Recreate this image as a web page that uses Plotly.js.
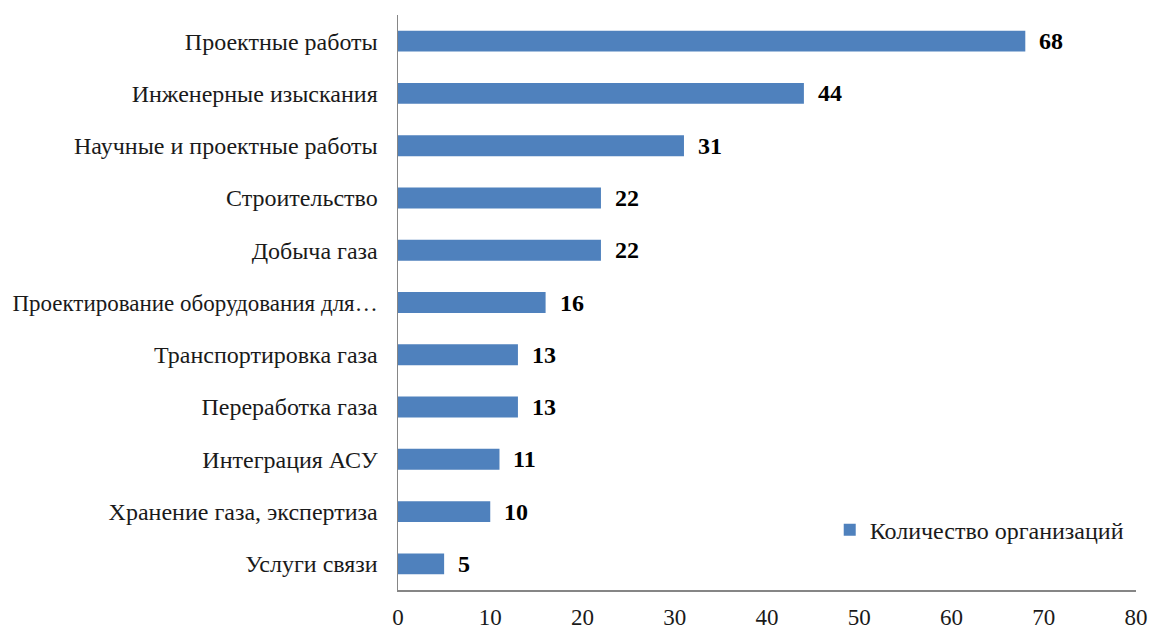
<!DOCTYPE html>
<html>
<head>
<meta charset="utf-8">
<script src="https://cdn.plot.ly/plotly-3.0.1.min.js"></script>
<style>html,body{margin:0;padding:0;background:#fff;}#chart{width:1150px;height:631px;}</style>
</head>
<body>
<div id="chart"></div>
<script>
const categories = [
  "Проектные работы",
  "Инженерные изыскания",
  "Научные и проектные работы",
  "Строительство",
  "Добыча газа",
  "Проектирование оборудования для…",
  "Транспортировка газа",
  "Переработка газа",
  "Интеграция АСУ",
  "Хранение газа, экспертиза",
  "Услуги связи"
];
const values = [68, 44, 31, 22, 22, 16, 13, 13, 11, 10, 5];
const seriesName = "Количество организаций";
const xTicks = [0, 10, 20, 30, 40, 50, 60, 70, 80];

const font = "'Liberation Serif', 'Times New Roman', serif";

// long labels get a slightly smaller size so they fit in the margin
const yTickText = categories.map(c => c.length > 30 ? '<span style="font-size:23px">' + c + '</span>' : c);

const trace = {
  type: "bar",
  orientation: "h",
  x: values,
  y: categories,
  name: seriesName,
  marker: {color: "#4F81BD", line: {width: 0}},
  showlegend: true,
  hoverinfo: "x+y"
};

const annotations = values.map((v, i) => ({
  x: v, y: categories[i], xref: "x", yref: "y",
  text: "<b>" + v + "</b>", showarrow: false,
  xanchor: "left", yanchor: "middle", xshift: 12,
  font: {family: font, size: 24, color: "#000"}
}));

const layout = {
  width: 1150, height: 631,
  margin: {l: 398, r: 14, t: 15, b: 41, pad: 0},
  paper_bgcolor: "#fff", plot_bgcolor: "#fff",
  font: {family: font, size: 24, color: "#1a1a1a"},
  bargap: 0.6,
  xaxis: {
    range: [0, 80], tickvals: xTicks, ticktext: xTicks.map(String),
    showgrid: false, zeroline: false,
    showline: true, linecolor: "#868686", linewidth: 1.5,
    ticks: "", ticklabelstandoff: 6,
    tickfont: {family: font, size: 23, color: "#1a1a1a"}
  },
  yaxis: {
    autorange: "reversed", type: "category",
    tickvals: categories, ticktext: yTickText,
    showgrid: false, zeroline: false,
    showline: true, linecolor: "#868686", linewidth: 1.5,
    ticks: "", ticklabelstandoff: 14,
    tickfont: {family: font, size: 24, color: "#1a1a1a"}
  },
  legend: {
    x: 0.585, y: 0.104, xanchor: "left", yanchor: "middle",
    bgcolor: "rgba(0,0,0,0)", itemwidth: 30,
    font: {family: font, size: 24, color: "#1a1a1a"}
  },
  annotations: annotations
};

Plotly.newPlot("chart", [trace], layout, {displayModeBar: false, staticPlot: true});
</script>
</body>
</html>
